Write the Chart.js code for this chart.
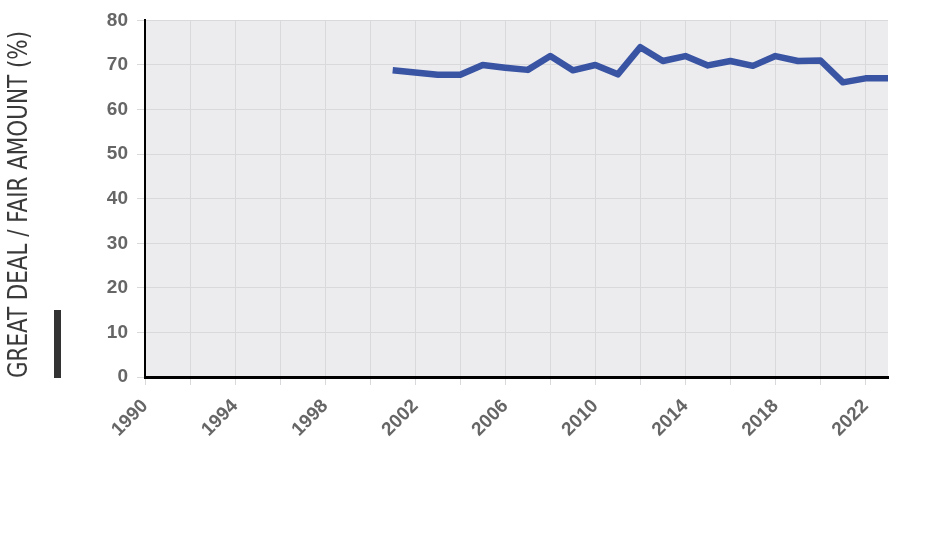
<!DOCTYPE html>
<html>
<head>
<meta charset="utf-8">
<script src="https://cdn.jsdelivr.net/npm/chart.js@4.4.1/dist/chart.umd.min.js"></script>
<style>
html,body{margin:0;padding:0;background:#fff;}
#wrap{width:950px;height:540px;position:relative;}
</style>
</head>
<body>
<div id="wrap"><canvas id="c" width="950" height="540"></canvas></div>
<script>
const years = [2001,2002,2003,2004,2005,2006,2007,2008,2009,2010,2011,2012,2013,2014,2015,2016,2017,2018,2019,2020,2021,2022,2023];
const values = [68.8,68.3,67.8,67.8,70.0,69.4,68.9,72.0,68.8,70.0,67.9,74.0,70.9,72.0,69.9,70.9,69.8,72.0,70.9,71.0,66.1,67.0,67.0];
const xGridYears = [1990,1992,1994,1996,1998,2000,2002,2004,2006,2008,2010,2012,2014,2016,2018,2020,2022];
const xTickLabels = ['1990','1994','1998','2002','2006','2010','2014','2018','2022'];
const yTickLabels = ['0','10','20','30','40','50','60','70','80'];
const yTitle = 'GREAT DEAL / FAIR AMOUNT (%)';

const points = years.map((y,i)=>({x:y,y:values[i]}));

const bgPlugin = {
  id:'bg',
  beforeDraw(chart){
    const {ctx, chartArea:a} = chart;
    ctx.save();
    ctx.fillStyle = '#ececef';
    ctx.fillRect(a.left, a.top, a.right-a.left, a.bottom-a.top);
    ctx.restore();
  },
  afterDraw(chart){
    const {ctx, chartArea:a} = chart;
    ctx.save();
    ctx.translate(27, a.bottom+1);
    ctx.rotate(-Math.PI/2);
    ctx.fillStyle = '#3a3a3a';
    ctx.font = '26px "Liberation Sans Narrow", "DejaVu Sans Condensed", sans-serif';
    ctx.textAlign = 'left';
    ctx.textBaseline = 'alphabetic';
    const w = ctx.measureText(yTitle).width;
    const target = 347;
    ctx.scale(target/w, 1);
    ctx.fillText(yTitle, 0, 0);
    ctx.restore();
    ctx.save();
    ctx.fillStyle = '#333333';
    ctx.fillRect(54, 310, 7, a.bottom+1-310);
    ctx.restore();
  }
};

new Chart(document.getElementById('c'), {
  type:'line',
  data:{datasets:[{
    data:points,
    borderColor:'#3a54a4',
    borderWidth:6.5,
    pointRadius:0,
    tension:0,
    fill:false,
    borderJoinStyle:'round'
  }]},
  options:{
    responsive:false,
    animation:false,
    devicePixelRatio:1,
    layout:{padding:{top:20,right:62,left:0,bottom:0}},
    plugins:{legend:{display:false},tooltip:{enabled:false}},
    scales:{
      x:{
        type:'linear',
        min:1990,max:2023,
        afterBuildTicks(s){ s.ticks = xGridYears.map(v=>({value:v})); },
        afterFit(s){ s.height = 163; },
        ticks:{
          autoSkip:false,
          maxRotation:45,minRotation:45,
          color:'#666666',
          font:{family:'"Liberation Sans", Arial, sans-serif',size:19,weight:'bold'},
          padding:10,
          callback(v){ const s=String(v); return xTickLabels.includes(s)?s:''; }
        },
        grid:{color:'#d9d9dc',lineWidth:1,tickLength:8,drawTicks:true},
        border:{color:'#000000',width:3}
      },
      y:{
        min:0,max:80,
        afterFit(s){ s.width = 145; },
        ticks:{
          stepSize:10,
          color:'#666666',
          font:{family:'"Liberation Sans", Arial, sans-serif',size:19,weight:'bold'},
          padding:9,
          callback(v){ return yTickLabels[v/10]; }
        },
        grid:{color:'#d9d9dc',lineWidth:1,tickLength:8},
        border:{color:'#000000',width:2}
      }
    }
  },
  plugins:[bgPlugin]
});
</script>
</body>
</html>
